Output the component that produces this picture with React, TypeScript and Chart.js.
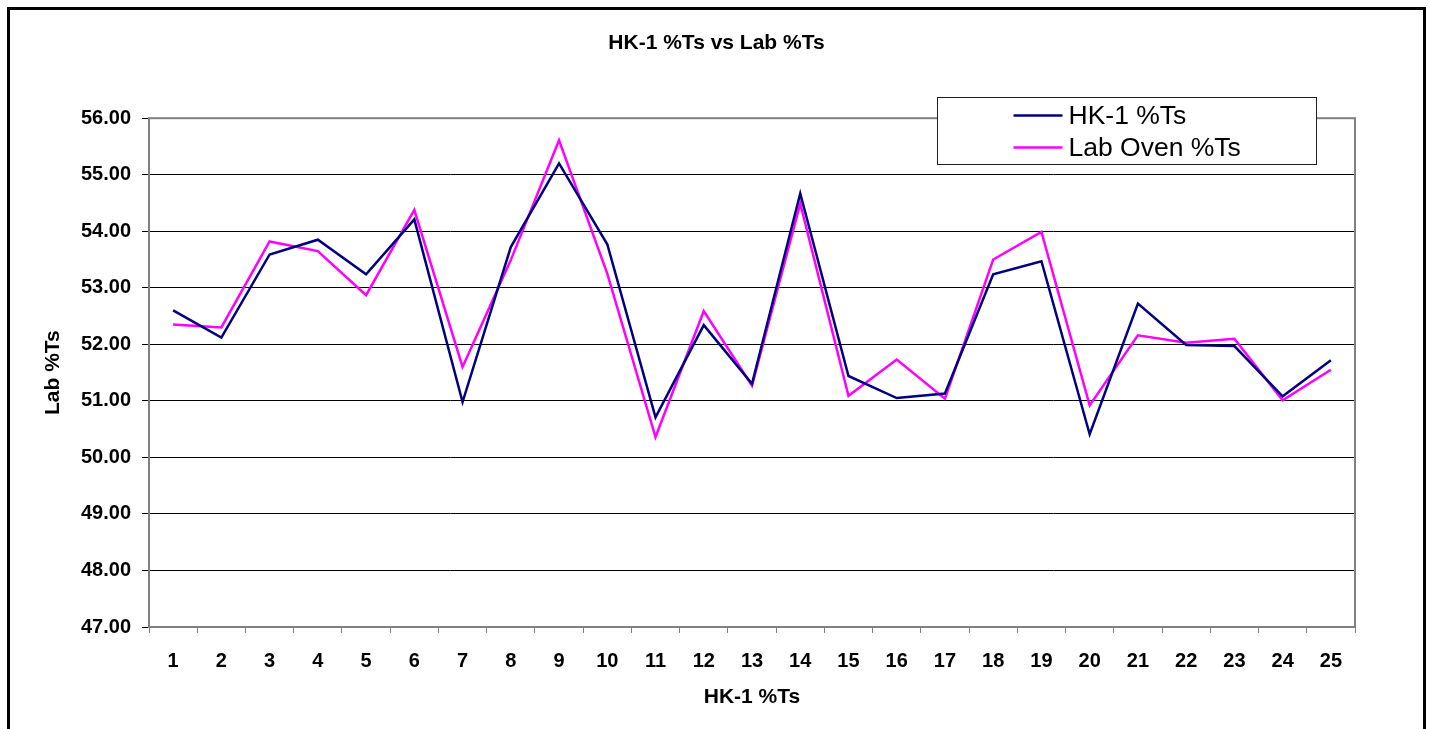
import React, { useEffect, useRef } from "react";
import { Chart, registerables } from "chart.js";

Chart.register(...registerables);

const categories = ["1","2","3","4","5","6","7","8","9","10","11","12","13","14","15","16","17","18","19","20","21","22","23","24","25"];
const hk1Values = [52.60, 52.12, 53.59, 53.85, 53.24, 54.21, 50.98, 53.72, 55.20, 53.77, 50.71, 52.34, 51.30, 54.67, 51.44, 51.05, 51.13, 53.24, 53.47, 50.41, 52.72, 51.99, 51.97, 51.08, 51.72];
const labValues = [52.35, 52.30, 53.82, 53.65, 52.87, 54.38, 51.60, 53.49, 55.61, 53.25, 50.36, 52.59, 51.27, 54.49, 51.09, 51.73, 51.04, 53.50, 53.99, 50.92, 52.16, 52.03, 52.10, 51.01, 51.55];
const seriesNames = ["HK-1 %Ts", "Lab Oven %Ts"];
const seriesColors = ["#000080", "#FF00FF"];
const yMin = 47;
const yMax = 56;
const yStep = 1;
const chartTitle = "HK-1 %Ts vs Lab %Ts";
const xTitle = "HK-1 %Ts";
const yTitle = "Lab %Ts";

const FONT = "'Liberation Sans', Arial, Helvetica, sans-serif";
const CW = 1413;
const CH = 719;

const framePlugin = {
  id: "frame",
  beforeDatasetsDraw(chart: any) {
    const { ctx, chartArea } = chart;
    ctx.save();
    ctx.strokeStyle = "#808080";
    ctx.lineWidth = 2;
    ctx.strokeRect(chartArea.left, chartArea.top, chartArea.right - chartArea.left, chartArea.bottom - chartArea.top);
    ctx.restore();
  },
};

const legendPlugin = {
  id: "boxLegend",
  afterDraw(chart: any) {
    const { ctx, chartArea } = chart;
    const bw = 379;
    const bh = 67;
    const bx = Math.round(chartArea.right - 39 - bw) + 0.5;
    const by = Math.round(chartArea.top - 21) + 0.5;
    ctx.save();
    ctx.fillStyle = "#ffffff";
    ctx.fillRect(bx, by, bw, bh);
    ctx.strokeStyle = "#202020";
    ctx.lineWidth = 1;
    ctx.strokeRect(bx, by, bw, bh);
    ctx.font = `26.5px ${FONT}`;
    ctx.textBaseline = "middle";
    ctx.textAlign = "left";
    chart.data.datasets.forEach((ds: any, i: number) => {
      const ly = by + 18 + i * 32;
      ctx.strokeStyle = ds.borderColor;
      ctx.lineWidth = 2.5;
      ctx.beginPath();
      ctx.moveTo(bx + 76, ly);
      ctx.lineTo(bx + 125, ly);
      ctx.stroke();
      ctx.fillStyle = "#000";
      ctx.fillText(ds.label, bx + 131, ly + 1);
    });
    ctx.restore();
  },
};

export default function App() {
  const ref = useRef<HTMLCanvasElement | null>(null);
  useEffect(() => {
    if (!ref.current) return;
    const chart = new Chart(ref.current, {
      type: "line",
      data: {
        labels: categories,
        datasets: [
          { label: seriesNames[0], data: hk1Values, borderColor: seriesColors[0], backgroundColor: seriesColors[0], borderWidth: 2.5, pointRadius: 0, tension: 0, fill: false, yAxisID: "y" },
          { label: seriesNames[1], data: labValues, borderColor: seriesColors[1], backgroundColor: seriesColors[1], borderWidth: 2.5, pointRadius: 0, tension: 0, fill: false, yAxisID: "y" },
        ],
      },
      options: {
        responsive: false,
        animation: false,
        layout: { padding: { left: 0, right: 0, top: 0, bottom: 0 } },
        plugins: {
          legend: { display: false },
          tooltip: { enabled: false },
          title: {
            display: true,
            text: chartTitle,
            color: "#000",
            font: { family: FONT, size: 21, weight: "bold" },
            padding: { top: 21, bottom: 62 },
          },
        },
        scales: {
          x: {
            type: "category",
            offset: true,
            afterFit: (s: any) => { s.height = 102; },
            grid: { display: true, drawOnChartArea: false, drawTicks: true, tickLength: 6, offset: true, color: "#808080", lineWidth: 1 },
            border: { display: false },
            ticks: { color: "#000", font: { family: FONT, size: 20, weight: "bold" }, padding: 16, maxRotation: 0, autoSkip: false },
            title: { display: true, text: xTitle, color: "#000", font: { family: FONT, size: 21, weight: "bold" }, padding: { top: 0, bottom: 19 } },
          },
          y: {
            position: "left",
            min: yMin,
            max: yMax,
            afterFit: (s: any) => { s.width = 139; },
            grid: { display: true, drawOnChartArea: true, drawTicks: true, tickLength: 7, color: "#000", lineWidth: 1 },
            border: { display: false },
            ticks: { stepSize: yStep, color: "#000", font: { family: FONT, size: 20, weight: "bold" }, padding: 11, callback: (v: any) => Number(v).toFixed(2) },
            title: { display: true, text: yTitle, color: "#000", font: { family: FONT, size: 21, weight: "bold" }, padding: { top: 31, bottom: 0 } },
          },
          yRight: {
            position: "right",
            display: true,
            min: yMin,
            max: yMax,
            afterFit: (s: any) => { s.width = 68; },
            grid: { display: false, drawOnChartArea: false, drawTicks: false },
            border: { display: false },
            ticks: { display: false },
          },
        },
      },
      plugins: [framePlugin, legendPlugin],
    });
    return () => chart.destroy();
  }, []);
  return (
    <div style={{ position: "absolute", left: 7, top: 7, width: CW, height: CH + 3, borderTop: "3px solid #000", borderLeft: "3px solid #000", borderRight: "3px solid #000", background: "#fff", overflow: "hidden" }}>
      <canvas ref={ref} width={CW} height={CH} style={{ display: "block", width: CW, height: CH }} />
    </div>
  );
}
